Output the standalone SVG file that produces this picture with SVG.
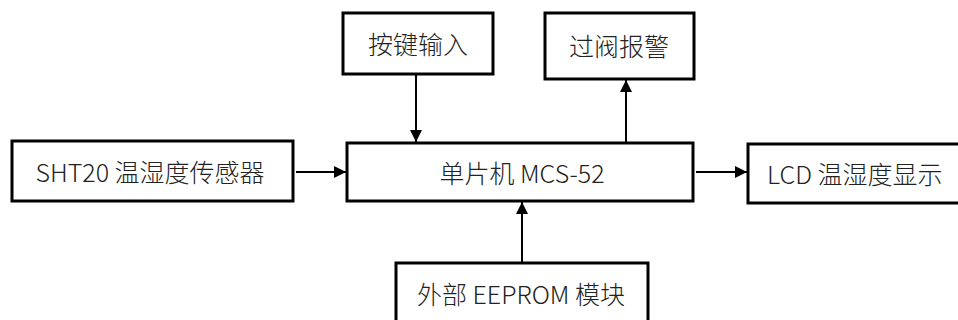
<svg xmlns="http://www.w3.org/2000/svg" width="958" height="320" viewBox="0 0 958 320">
<style>
.box{fill:#fff;stroke:#000;stroke-width:3}
.t{font-family:"Noto Sans CJK SC","Noto Sans",sans-serif;font-size:25px;font-weight:300;fill:#222;text-anchor:middle;dominant-baseline:central}
.c{stroke:#000;stroke-width:2;fill:none}
</style>
<defs>
<marker id="ah" viewBox="0 0 10 10" refX="10" refY="5" markerWidth="6" markerHeight="6" orient="auto" markerUnits="strokeWidth">
<path d="M0,0 L10,5 L0,10 z" fill="#000"/>
</marker>
</defs>
<rect width="958" height="320" fill="#fff"/>
<g id="connectors">
<line class="c" x1="416" y1="74" x2="416" y2="142" marker-end="url(#ah)"/>
<line class="c" x1="626" y1="142" x2="626" y2="80" marker-end="url(#ah)"/>
<line class="c" x1="296" y1="172" x2="346" y2="172" marker-end="url(#ah)"/>
<line class="c" x1="696" y1="172" x2="747" y2="172" marker-end="url(#ah)"/>
<line class="c" x1="522" y1="263" x2="522" y2="202" marker-end="url(#ah)"/>
</g>
<g id="key">
<rect class="box" x="343" y="13" width="150" height="61"/>
<text class="t" x="418" y="43">按键输入</text>
</g>
<g id="alarm">
<rect class="box" x="545" y="13" width="149" height="66"/>
<text class="t" x="619" y="45">过阀报警</text>
</g>
<g id="sensor">
<rect class="box" x="12" y="141" width="281" height="60"/>
<text class="t" x="150" y="171">SHT20 温湿度传感器</text>
</g>
<g id="mcu">
<rect class="box" x="347" y="143" width="346" height="58"/>
<text class="t" x="522" y="172">单片机 MCS-52</text>
</g>
<g id="lcd">
<rect class="box" x="748" y="144" width="215" height="59"/>
<text class="t" x="767" y="173" style="text-anchor:start">LCD 温湿度显示</text>
</g>
<g id="eeprom">
<rect class="box" x="396" y="263" width="252" height="70"/>
<text class="t" x="521" y="293">外部 EEPROM 模块</text>
</g>
</svg>
